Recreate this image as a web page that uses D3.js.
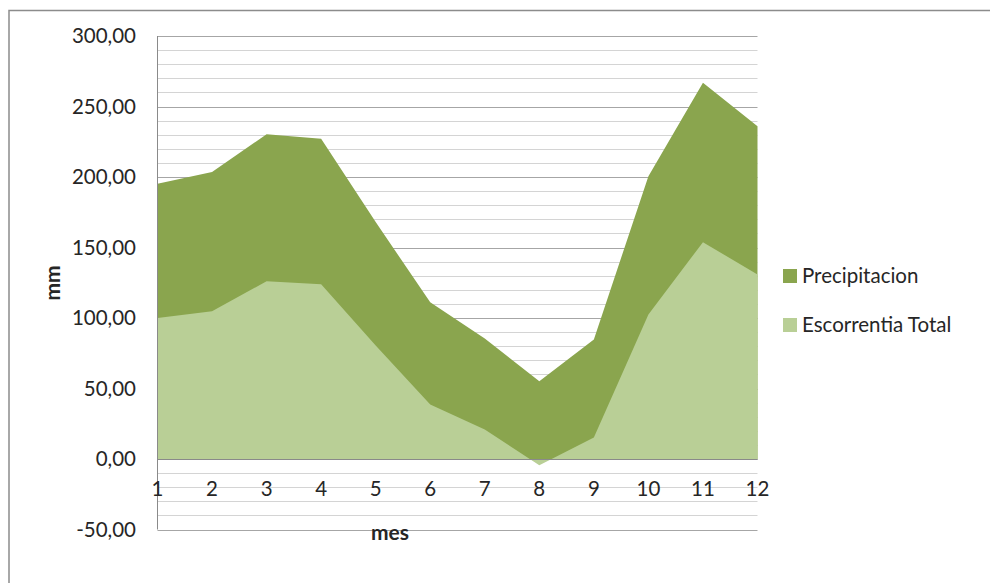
<!DOCTYPE html>
<html>
<head>
<meta charset="utf-8">
<script src="https://cdn.jsdelivr.net/npm/d3@7"></script>
<style>
  html, body { margin: 0; padding: 0; background: #fff; }
  svg { display: block; }
  text { font-family: Lato, "Open Sans", sans-serif; fill: #262626; }
</style>
</head>
<body>
<svg id="chart" width="990" height="583"></svg>
<script>
// Monthly values (mm)
const months = [1, 2, 3, 4, 5, 6, 7, 8, 9, 10, 11, 12];
const precipitacion = [195.2, 203.5, 230.4, 227.2, 168.0, 111.2, 85.5, 55.2, 84.8, 200.6, 266.8, 236.0];
const escorrentiaTotal = [100.0, 104.8, 126.1, 124.0, 80.5, 38.7, 20.9, -4.5, 15.2, 102.5, 153.8, 130.8];
const yTicks = [-50, 0, 50, 100, 150, 200, 250, 300];
const seriesNames = ["Precipitacion", "Escorrentia Total"];
const seriesColors = ["#8aa54e", "#b9cf96"];

const svg = d3.select("#chart");
const plot = { left: 157.5, right: 757.5, top: 36, bottom: 529.5 };

const x = d3.scaleLinear().domain([1, 12]).range([plot.left, plot.right]);
const y = d3.scaleLinear().domain([-50, 300]).range([plot.bottom, plot.top]);

// Chart frame (top and left edges)
svg.append("path")
  .attr("d", "M9,583 V10.5 H990")
  .attr("fill", "none")
  .attr("stroke", "#8c8c8c")
  .attr("stroke-width", 1.5);

// Minor gridlines every 10 mm, major every 50 mm
const minor = d3.range(-50, 301, 10).filter(v => v % 50 !== 0);
svg.append("g").selectAll("line").data(minor).join("line")
  .attr("x1", plot.left).attr("x2", plot.right)
  .attr("y1", d => Math.round(y(d)) + 0.5).attr("y2", d => Math.round(y(d)) + 0.5)
  .attr("stroke", "#d4d4d4").attr("stroke-width", 1);
svg.append("g").selectAll("line").data(yTicks).join("line")
  .attr("x1", plot.left).attr("x2", plot.right)
  .attr("y1", d => Math.round(y(d)) + 0.5).attr("y2", d => Math.round(y(d)) + 0.5)
  .attr("stroke", d => d === 0 ? "#8a8a8a" : "#a6a6a6").attr("stroke-width", 1);

// Areas: precipitation behind, runoff in front
const area = d3.area()
  .x((d, i) => x(months[i]))
  .y0(y(0))
  .y1(d => y(d));

svg.append("path").datum(precipitacion)
  .attr("d", area).attr("fill", seriesColors[0]);
svg.append("path").datum(escorrentiaTotal)
  .attr("d", area).attr("fill", seriesColors[1]);

// Zero line above the areas
svg.append("line")
  .attr("x1", plot.left).attr("x2", plot.right)
  .attr("y1", Math.round(y(0)) + 0.5).attr("y2", Math.round(y(0)) + 0.5)
  .attr("stroke", "#8a8a8a").attr("stroke-width", 1);

// Vertical value axis
svg.append("line")
  .attr("x1", plot.left).attr("x2", plot.left)
  .attr("y1", plot.top).attr("y2", plot.bottom)
  .attr("stroke", "#8a8a8a").attr("stroke-width", 1);

// Decimal comma and plain hyphen for negatives
const fmt = v => d3.format(".2f")(v).replace(".", ",").replace("\u2212", "-");

// Y tick labels
svg.append("g").selectAll("text").data(yTicks).join("text")
  .attr("x", 136).attr("y", d => y(d))
  .attr("dy", "0.35em")
  .attr("text-anchor", "end")
  .style("font-size", "20.5px")
  .text(fmt);

// X tick labels
svg.append("g").selectAll("text").data(months).join("text")
  .attr("x", d => x(d)).attr("y", 496)
  .attr("text-anchor", "middle")
  .style("font-size", "20.5px")
  .text(d => d);

// Axis titles
svg.append("text")
  .attr("x", 390).attr("y", 540)
  .attr("text-anchor", "middle")
  .style("font-size", "21px").style("font-weight", "bold")
  .text("mes");
svg.append("text")
  .attr("transform", "translate(60,283) rotate(-90)")
  .attr("text-anchor", "middle")
  .style("font-size", "21px").style("font-weight", "bold")
  .text("mm");

// Legend
const legend = svg.append("g").selectAll("g").data(seriesNames).join("g")
  .attr("transform", (d, i) => `translate(783,${269 + i * 49})`);
legend.append("rect")
  .attr("width", 14).attr("height", 14)
  .attr("fill", (d, i) => seriesColors[i]);
legend.append("text")
  .attr("x", 19).attr("y", 14)
  .style("font-size", "20.5px")
  .text(d => d);
</script>
</body>
</html>
